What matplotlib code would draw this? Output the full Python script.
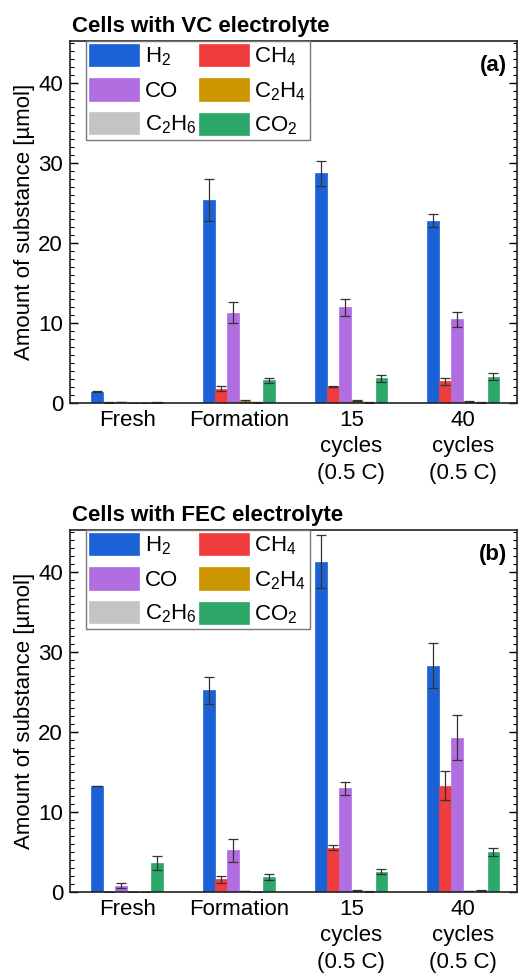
import matplotlib
matplotlib.use("Agg")
import matplotlib.pyplot as plt
import numpy as np
from matplotlib.ticker import MultipleLocator

plt.rcParams['font.family'] = ['Liberation Sans', 'DejaVu Sans']
plt.rcParams['mathtext.fontset'] = 'custom'
plt.rcParams['mathtext.rm'] = 'Liberation Sans'

groups = ["Fresh", "Formation", "15\ncycles\n(0.5 C)", "40\ncycles\n(0.5 C)"]
gases = [r"H$_2$", r"CH$_4$", "CO", r"C$_2$H$_4$", r"C$_2$H$_6$", r"CO$_2$"]
colors = ["#1a62d6", "#f03c3c", "#b06ee0", "#cc9600", "#c4c4c4", "#2ea86a"]

# VC electrolyte: rows = gases, columns = groups
vc_vals = [
    [1.4, 25.35, 28.7, 22.8],   # H2
    [0.05, 1.8, 2.05, 2.7],     # CH4
    [0.1, 11.3, 11.95, 10.45],  # CO
    [0.0, 0.25, 0.3, 0.15],     # C2H4
    [0.0, 0.05, 0.05, 0.05],    # C2H6
    [0.1, 2.85, 3.1, 3.3],      # CO2
]
vc_err = [
    [0.08, 2.65, 1.6, 0.85],
    [0.03, 0.3, 0.08, 0.4],
    [0.03, 1.3, 1.1, 0.9],
    [0.0, 0.08, 0.08, 0.05],
    [0.0, 0.02, 0.02, 0.02],
    [0.05, 0.3, 0.45, 0.4],
]
fec_vals = [
    [13.25, 25.2, 41.3, 28.3],  # H2
    [0.0, 1.6, 5.55, 13.3],     # CH4
    [0.8, 5.2, 12.95, 19.3],    # CO
    [0.0, 0.1, 0.15, 0.1],      # C2H4
    [0.0, 0.0, 0.05, 0.2],      # C2H6
    [3.6, 1.9, 2.55, 5.05],     # CO2
]
fec_err = [
    [0.05, 1.7, 3.3, 2.8],
    [0.0, 0.45, 0.35, 1.8],
    [0.3, 1.45, 0.85, 2.8],
    [0.0, 0.03, 0.05, 0.03],
    [0.0, 0.0, 0.02, 0.05],
    [0.9, 0.4, 0.35, 0.5],
]
titles = ["Cells with VC electrolyte", "Cells with FEC electrolyte"]
panel_tags = ["(a)", "(b)"]

W, H = 522, 973
fig = plt.figure(figsize=(W / 100, H / 100), dpi=100)

def px_axes(left, top, right, bottom):
    return fig.add_axes([left / W, 1 - bottom / H, (right - left) / W, (bottom - top) / H])

axes = [px_axes(70, 41, 517, 403), px_axes(70, 530, 517, 892)]
datasets = [(vc_vals, vc_err), (fec_vals, fec_err)]

x = np.arange(len(groups))
step = 0.108
width = 0.106
fs = 16

for ax, (vals, errs), title, tag in zip(axes, datasets, titles, panel_tags):
    handles = []
    for i, (v, e, c, lab) in enumerate(zip(vals, errs, colors, gases)):
        b = ax.bar(x + (i - 2.5) * step, v, width, yerr=e, color=c, label=lab,
                   edgecolor=c, linewidth=0.5,
                   error_kw=dict(ecolor="#333333", elinewidth=0.9, capsize=3.8, capthick=0.9))
        handles.append(b)
    ax.set_xlim(-0.51, 3.48)
    ax.set_ylim(0, 45.25)
    ax.set_xticks(x)
    ax.set_xticklabels(groups, fontsize=fs, linespacing=1.33, va='top')
    ax.tick_params(axis='x', length=0, pad=5)
    ax.yaxis.set_major_locator(MultipleLocator(10))
    ax.yaxis.set_minor_locator(MultipleLocator(1))
    ax.tick_params(axis='y', which='major', direction='in', length=6, width=1.0,
                   right=True, labelsize=fs, pad=5)
    ax.tick_params(axis='y', which='minor', direction='in', length=3, width=0.8, right=True)
    for s in ax.spines.values():
        s.set_linewidth(1.2)
        s.set_color("#222222")
    ax.set_ylabel("Amount of substance [µmol]", fontsize=fs, labelpad=2)
    ax.text(0.005, 1.012, title, transform=ax.transAxes, fontsize=fs, fontweight='bold',
            ha='left', va='bottom')
    ax.text(0.978, 0.96, tag, transform=ax.transAxes, fontsize=fs, fontweight='bold',
            ha='right', va='top')
    # row-major legend order (two columns)
    order = [0, 2, 4, 1, 3, 5]
    leg = ax.legend([handles[k] for k in order], [gases[k] for k in order],
                    ncol=2, loc='upper left', bbox_to_anchor=(16 / 447, 1.0),
                    borderaxespad=0, fontsize=fs, handlelength=2.25, handleheight=1.15,
                    handletextpad=0.25, columnspacing=0.1, labelspacing=0.45,
                    borderpad=0.15, fancybox=False, framealpha=1, edgecolor="#777777")
    leg.get_frame().set_linewidth(1.0)

fig.savefig("out.png", dpi=100)
